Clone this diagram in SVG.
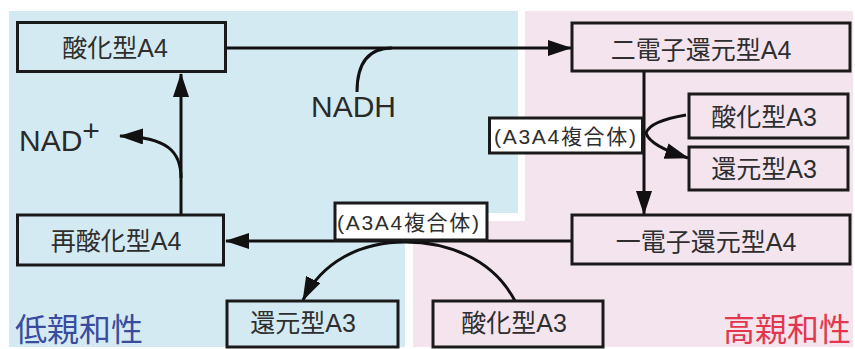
<svg xmlns="http://www.w3.org/2000/svg" width="855" height="349" viewBox="0 0 855 349">
<defs>
<style>
.bx{fill:none;stroke:#1a1a1a;stroke-width:3}
.lb{fill:#ffffff;stroke:#1a1a1a;stroke-width:3}
.t{font-family:"Liberation Sans","Noto Sans CJK JP",sans-serif;font-size:25px;fill:#2e2e2e;text-anchor:middle}
.tl{font-family:"Liberation Sans","Noto Sans CJK JP",sans-serif;font-size:21px;fill:#2e2e2e;text-anchor:middle}
.big{font-family:"Liberation Sans","Noto Sans CJK JP",sans-serif;font-size:30px;fill:#2a2a2a}
.aff{font-family:"Noto Sans CJK JP",sans-serif;font-size:32px}
.c{fill:none;stroke:#111;stroke-width:3}
</style>
<marker id="ah" markerUnits="userSpaceOnUse" viewBox="0 0 24 16" markerWidth="24" markerHeight="16" refX="23" refY="8" orient="auto">
<path d="M0,0 L24,8 L0,16 z" fill="#111"/>
</marker>
</defs>
<g id="background">
<path d="M9,11 H518 V213 H405 V347 H9 Z" fill="#d4eaf2"/>
<path d="M525,11 H853 V347 H413 V221 H525 Z" fill="#f3e4ee"/>
</g>
<g id="connectors">
<line class="c" x1="226" y1="48" x2="571" y2="48" marker-end="url(#ah)"/>
<path class="c" d="M357,92 C357,66 366,48 392,48"/>
<line class="c" x1="181" y1="215" x2="181" y2="74" marker-end="url(#ah)"/>
<path class="c" d="M181,178 C181,152 168,137 120,136" marker-end="url(#ah)"/>
<line class="c" x1="644" y1="71" x2="644" y2="214" marker-end="url(#ah)"/>
<path class="c" d="M686,115 Q650,121 646,133 Q650,146 688,158" marker-end="url(#ah)"/>
<line class="c" x1="572" y1="241" x2="226" y2="241" marker-end="url(#ah)"/>
<path class="c" d="M515,301 C492,257 445,242 405,242 C360,242 322,262 303,300" marker-end="url(#ah)"/>
</g>
<g id="n-ox-a4"><rect class="bx" x="17.5" y="22.5" width="208" height="49"/><text class="t" x="115" y="57">酸化型A4</text></g>
<g id="n-2e-a4"><rect class="bx" x="572" y="23" width="278" height="48"/><text class="t" x="701" y="59">二電子還元型A4</text></g>
<g id="n-ox-a3-r"><rect class="bx" x="689" y="94" width="159" height="44"/><text class="t" x="764" y="126">酸化型A3</text></g>
<g id="n-red-a3-r"><rect class="bx" x="689" y="147" width="159" height="43"/><text class="t" x="764" y="178">還元型A3</text></g>
<g id="n-1e-a4"><rect class="bx" x="572" y="215" width="278" height="49"/><text class="t" x="706" y="251">一電子還元型A4</text></g>
<g id="n-reox-a4"><rect class="bx" x="17.5" y="215" width="206" height="50"/><text class="t" x="116" y="250">再酸化型A4</text></g>
<g id="n-ox-a3-b"><rect class="bx" x="433" y="301" width="170" height="46"/><text class="t" x="514" y="332">酸化型A3</text></g>
<g id="n-red-a3-b"><rect class="bx" x="227" y="301" width="171" height="46"/><text class="t" x="303" y="332">還元型A3</text></g>
<g id="n-complex-r"><rect class="lb" x="489.5" y="118" width="153" height="35"/><text class="tl" x="565" y="143.5" textLength="142" lengthAdjust="spacing">(A3A4複合体)</text></g>
<g id="n-complex-b"><rect class="lb" x="335" y="203" width="152" height="37"/><text class="tl" x="408" y="229.5" textLength="142" lengthAdjust="spacing">(A3A4複合体)</text></g>
<g id="n-nadh"><text class="big" x="311" y="117">NADH</text></g>
<g id="n-nad"><text class="big" x="19" y="151">NAD<tspan dy="-10" font-size="30">+</tspan></text></g>
<g id="n-low"><text class="aff" x="15" y="341" fill="#3a4c9e">低親和性</text></g>
<g id="n-high"><text class="aff" x="723" y="341" fill="#e2374d">高親和性</text></g>
</svg>
